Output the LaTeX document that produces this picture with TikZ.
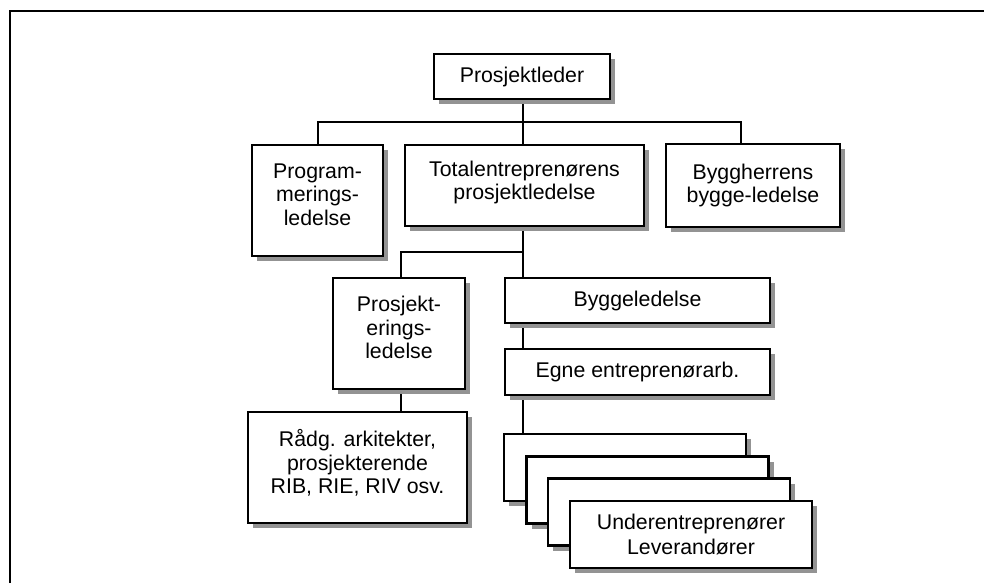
\documentclass[tikz,border=0pt]{standalone}
\usepackage{fontspec}
\setmainfont{Liberation Sans}
\usetikzlibrary{shadows,backgrounds,calc}
\begin{document}
\begin{tikzpicture}[x=1pt,y=-1pt,
  orgbox/.style={draw,fill=white,line width=2.4pt,inner sep=0pt,align=center,
    font=\fontsize{21.3}{23.5}\selectfont,
    drop shadow={shadow xshift=5pt,shadow yshift=-5pt,fill=gray!85,opacity=1,draw=none}},
  raise/.style={text depth=#1},
  conn/.style={line width=2pt},
  frameline/.style={line width=2.4pt}]
\useasboundingbox (0,0) rectangle (984,583);
\draw[frameline] (10,583) -- (10,11) -- (984,11);

\node[orgbox,minimum width=176pt,minimum height=45pt] (pl) at (522,76.5) {Prosjektleder};
\node[orgbox,raise=12pt,minimum width=131pt,minimum height=111pt] (prog) at (317.5,200.5) {Program-\\merings-\\ledelse};
\node[orgbox,raise=10pt,minimum width=239pt,minimum height=81pt] (tot) at (524.5,185.5) {Totalentreprenørens\\prosjektledelse};
\node[orgbox,minimum width=174pt,minimum height=83pt] (bh) at (753,185.5) {Byggherrens\\bygge-ledelse};
\node[orgbox,raise=12pt,minimum width=132pt,minimum height=111pt] (pros) at (399,333.5) {Prosjekt-\\erings-\\ledelse};
\node[orgbox,minimum width=265pt,minimum height=45pt] (bygg) at (637.5,300.5) {Byggeledelse};
\node[orgbox,minimum width=265pt,minimum height=46pt] (egne) at (637.5,372) {Egne entreprenørarb.};
\node[orgbox,raise=12pt,minimum width=219pt,minimum height=111pt] (radg) at (357.5,467.5) {Rådg. arkitekter,\\prosjekterende\\RIB, RIE, RIV osv.};
\node[orgbox,minimum width=242pt,minimum height=67pt] (s1) at (625,467.5) {};
\node[orgbox,minimum width=242pt,minimum height=67pt] (s2) at (647.5,490) {};
\node[orgbox,minimum width=242pt,minimum height=67pt] (s3) at (669,512) {};
\node[orgbox,minimum width=242pt,minimum height=67pt] (s4) at (691,534.5) {Underentreprenører\\[1.5pt]Leverandører};

\begin{scope}[on background layer]
  \coordinate (j1) at (523,122);
  \coordinate (j2) at (523,252);
  \coordinate (bhtop) at ($(bh.north west)+(76,0)$);
  \coordinate (pt) at ($(pros.north)+(2,0)$);
  \coordinate (pb) at ($(pros.south)+(2,0)$);
  \coordinate (rt) at (pb |- radg.north);
  \draw[conn] (j1 |- pl.south) -- (j1 |- tot.north);
  \draw[conn] (prog.north) |- (j1) -| (bhtop);
  \draw[conn] (j1 |- tot.south) -- (j1 |- s1.north);
  \draw[conn] (j2) -| (pt);
  \draw[conn] (pb) -- (rt);
\end{scope}
\end{tikzpicture}
\end{document}
